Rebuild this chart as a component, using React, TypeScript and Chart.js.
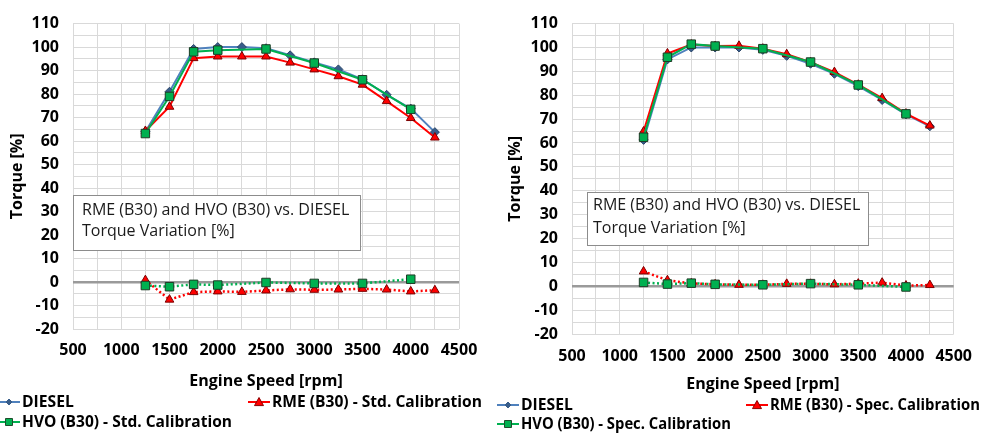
import React, { useEffect, useRef } from 'react';
import { Chart, registerables } from 'chart.js';
Chart.register(...registerables);

const rpmAll = [1250, 1500, 1750, 2000, 2250, 2500, 2750, 3000, 3250, 3500, 3750, 4000, 4250];
const rpmHvo = [1250, 1500, 1750, 2000, 2500, 3000, 3500, 4000];

const dieselStd = [64, 81, 99.2, 100, 100, 99.5, 96.5, 93.5, 90.5, 86.3, 79.7, 73.8, 63.8];
const rmeStd = [64.3, 74.6, 95.3, 96, 96, 96, 93.4, 90.5, 87.6, 84, 77, 69.8, 61.5];
const hvoStd = [63.2, 79, 98, 98.7, 99.2, 93.2, 86.1, 73.5];
const rmeStdVar = [0.8, -7.5, -4.3, -4, -4.2, -3.6, -3.1, -3.3, -3.2, -2.9, -3.2, -4, -3.5];
const hvoStdVar = [-1.5, -2, -1, -1.3, -0.2, -0.6, -0.6, 1.2];

const dieselSpec = [61.3, 95, 100, 100, 100, 99, 96.5, 93.2, 89, 83.8, 78, 72, 67];
const rmeSpec = [64.8, 97.5, 101.2, 100.6, 100.7, 99.5, 97.2, 93.8, 89.7, 84.4, 78.8, 72.3, 67.3];
const hvoSpec = [62.4, 95.9, 101.4, 100.6, 99.5, 93.9, 84.3, 72.2];
const rmeSpecVar = [6.2, 2.5, 1.2, 0.8, 0.6, 0.6, 1, 1, 0.8, 1.1, 1.5, 0.3, 0.5];
const hvoSpecVar = [1.6, 0.9, 1.3, 0.8, 0.6, 1.1, 0.6, -0.3];

const boxLines = ['RME (B30) and HVO (B30) vs. DIESEL', 'Torque Variation [%]'];

const FONT = '"Open Sans", sans-serif';
const BLUE = '#4F81BD';
const RED = '#FF0000';
const GREEN = '#00B050';

const pts = (xs: number[], ys: number[]) => xs.map((x, i) => ({ x, y: ys[i] }));

type PanelCfg = {
  width: number;
  left: number;
  right: number;
  top: number;
  bottom: number;
  yTitlePad: number;
  xTickPad: number;
  xTitlePad: number;
  diesel: number[];
  rme: number[];
  hvo: number[];
  rmeVar: number[];
  hvoVar: number[];
  rmeLabel: string;
  hvoLabel: string;
  box: { x0: number; x1: number; y0: number; y1: number; tx: number; ty: number[] };
  legend: { x0: number; x1: number; y0: number; y1: number };
};

function drawMarker(ctx: CanvasRenderingContext2D, kind: string, x: number, y: number, r: number, fill: string, stroke: string) {
  ctx.save();
  ctx.beginPath();
  if (kind === 'diamond') {
    ctx.moveTo(x, y - r); ctx.lineTo(x + r, y); ctx.lineTo(x, y + r); ctx.lineTo(x - r, y); ctx.closePath();
  } else if (kind === 'triangle') {
    ctx.moveTo(x, y - r); ctx.lineTo(x + r, y + r * 0.8); ctx.lineTo(x - r, y + r * 0.8); ctx.closePath();
  } else {
    ctx.rect(x - r, y - r, 2 * r, 2 * r);
  }
  ctx.fillStyle = fill; ctx.fill();
  ctx.lineWidth = 1; ctx.strokeStyle = stroke; ctx.stroke();
  ctx.restore();
}

function Panel({ cfg }: { cfg: PanelCfg }) {
  const ref = useRef<HTMLCanvasElement>(null);
  useEffect(() => {
    if (!ref.current) return;
    const overlay = {
      id: 'overlay',
      beforeDatasetsDraw(chart: any) {
        const ctx = chart.ctx as CanvasRenderingContext2D;
        const xs = chart.scales.x, ys = chart.scales.y;
        const b = cfg.box;
        const x0 = Math.round(xs.getPixelForValue(b.x0)) + 0.5;
        const x1 = Math.round(xs.getPixelForValue(b.x1)) + 0.5;
        const y0 = Math.round(ys.getPixelForValue(b.y0)) + 0.5;
        const y1 = Math.round(ys.getPixelForValue(b.y1)) + 0.5;
        ctx.save();
        ctx.fillStyle = '#FFFFFF';
        ctx.fillRect(x0, y0, x1 - x0, y1 - y0);
        ctx.strokeStyle = '#8C8C8C';
        ctx.lineWidth = 1;
        ctx.strokeRect(x0, y0, x1 - x0, y1 - y0);
        ctx.fillStyle = '#1A1A1A';
        ctx.font = `16px ${FONT}`;
        ctx.textBaseline = 'middle';
        ctx.textAlign = 'left';
        boxLines.forEach((t, i) => ctx.fillText(t, b.tx, b.ty[i]));
        ctx.restore();
      },
      afterDraw(chart: any) {
        const ctx = chart.ctx as CanvasRenderingContext2D;
        const L = cfg.legend;
        const items = [
          { x: L.x0, y: L.y0, label: 'DIESEL', color: BLUE, kind: 'diamond', r: 3, fill: '#385D8A', stroke: '#385D8A' },
          { x: L.x1, y: L.y0, label: cfg.rmeLabel, color: RED, kind: 'triangle', r: 4.5, fill: RED, stroke: '#8B0000' },
          { x: L.x0, y: L.y1, label: cfg.hvoLabel, color: GREEN, kind: 'square', r: 3.5, fill: GREEN, stroke: '#1E4D2B' },
        ];
        ctx.save();
        ctx.font = `bold 15.7px ${FONT}`;
        ctx.textBaseline = 'middle';
        ctx.textAlign = 'left';
        items.forEach((it) => {
          ctx.strokeStyle = it.color;
          ctx.lineWidth = 2;
          ctx.beginPath();
          ctx.moveTo(it.x, it.y);
          ctx.lineTo(it.x + 22, it.y);
          ctx.stroke();
          drawMarker(ctx, it.kind, it.x + 11, it.y, it.r, it.fill, it.stroke);
          ctx.fillStyle = '#000';
          ctx.fillText(it.label, it.x + 24, it.y + 1, 210);
        });
        ctx.restore();
      },
    };

    const tickFont = { family: FONT, size: 16, weight: 'bold' as const };
    const chart = new Chart(ref.current, {
      type: 'line',
      data: {
        datasets: [
          {
            label: 'DIESEL', data: pts(rpmAll, cfg.diesel), order: 5,
            borderColor: BLUE, borderWidth: 2, pointStyle: 'rectRot', pointRadius: 4.5,
            pointBackgroundColor: '#385D8A', pointBorderColor: '#2A4468', pointBorderWidth: 1,
          },
          {
            label: cfg.rmeLabel, data: pts(rpmAll, cfg.rme), order: 4,
            borderColor: RED, borderWidth: 2, pointStyle: 'triangle', pointRadius: 5,
            pointBackgroundColor: RED, pointBorderColor: '#7A0000', pointBorderWidth: 1,
          },
          {
            label: cfg.hvoLabel, data: pts(rpmHvo, cfg.hvo), order: 3,
            borderColor: GREEN, borderWidth: 2, pointStyle: 'rect', pointRadius: 6,
            pointBackgroundColor: GREEN, pointBorderColor: '#1E3B26', pointBorderWidth: 1,
          },
          {
            label: cfg.rmeLabel + ' var', data: pts(rpmAll, cfg.rmeVar), order: 2,
            borderColor: RED, borderWidth: 2.5, borderDash: [2, 2.5], pointStyle: 'triangle', pointRadius: 5,
            pointBackgroundColor: RED, pointBorderColor: '#7A0000', pointBorderWidth: 1,
          },
          {
            label: cfg.hvoLabel + ' var', data: pts(rpmHvo, cfg.hvoVar), order: 1,
            borderColor: GREEN, borderWidth: 2.5, borderDash: [2, 2.5], pointStyle: 'rect', pointRadius: 6,
            pointBackgroundColor: GREEN, pointBorderColor: '#1E3B26', pointBorderWidth: 1,
          },
        ],
      },
      options: {
        responsive: false,
        animation: false,
        devicePixelRatio: 1,
        layout: { padding: { left: 0, right: cfg.width - cfg.right, top: cfg.top, bottom: 0 } },
        plugins: { legend: { display: false }, tooltip: { enabled: false } },
        scales: {
          x: {
            type: 'linear', min: 500, max: 4500,
            ticks: {
              stepSize: 250, autoSkip: false, maxRotation: 0, padding: cfg.xTickPad,
              color: '#000', font: tickFont,
              callback: (v: any) => (Number(v) % 500 === 0 ? String(v) : ''),
            },
            grid: { color: '#D9D9D9', lineWidth: 1, drawTicks: false },
            border: { display: false },
            title: {
              display: true, text: 'Engine Speed [rpm]', color: '#000',
              font: { family: FONT, size: 16, weight: 'bold' }, padding: { top: 0, bottom: cfg.xTitlePad },
            },
            afterFit: (s: any) => { s.height = 435 - cfg.bottom; },
          },
          y: {
            type: 'linear', min: -20, max: 110,
            ticks: {
              stepSize: 5, autoSkip: false, padding: 14, color: '#000', font: tickFont,
              callback: (v: any) => (Number(v) % 10 === 0 ? String(v) : ''),
            },
            grid: {
              color: (c: any) => (c.tick && c.tick.value === 0 ? '#9A9A9A' : '#D9D9D9'),
              lineWidth: (c: any) => (c.tick && c.tick.value === 0 ? 2.5 : 1),
              drawTicks: false,
            },
            border: { display: false },
            title: {
              display: true, text: 'Torque [%]', color: '#000',
              font: { family: FONT, size: 16, weight: 'bold' }, padding: { top: cfg.yTitlePad, bottom: 0 },
            },
            afterFit: (s: any) => { s.width = cfg.left; },
          },
        },
      } as any,
      plugins: [overlay],
    });
    return () => chart.destroy();
  }, [cfg]);
  return <canvas ref={ref} width={cfg.width} height={435} style={{ display: 'block', width: cfg.width, height: 435 }} />;
}

const leftCfg: PanelCfg = {
  width: 490, left: 73, right: 459, top: 17, bottom: 329,
  yTitlePad: 8, xTickPad: 12, xTitlePad: 44,
  diesel: dieselStd, rme: rmeStd, hvo: hvoStd, rmeVar: rmeStdVar, hvoVar: hvoStdVar,
  rmeLabel: 'RME (B30) - Std. Calibration', hvoLabel: 'HVO (B30) - Std. Calibration',
  box: { x0: 500, x1: 3475, y0: 37.1, y1: 13.7, tx: 82, ty: [210, 231] },
  legend: { x0: -2, x1: 248, y0: 402, y1: 422 },
};

const rightCfg: PanelCfg = {
  width: 495, left: 82, right: 469, top: 17, bottom: 334,
  yTitlePad: 16, xTickPad: 13, xTitlePad: 41,
  diesel: dieselSpec, rme: rmeSpec, hvo: hvoSpec, rmeVar: rmeSpecVar, hvoVar: hvoSpecVar,
  rmeLabel: 'RME (B30) - Spec. Calibration', hvoLabel: 'HVO (B30) - Spec. Calibration',
  box: { x0: 655, x1: 3600, y0: 39.5, y1: 17.4, tx: 103, ty: [205, 228] },
  legend: { x0: 7, x1: 256, y0: 405, y1: 424 },
};

export default function App() {
  useEffect(() => {
    document.body.style.margin = '0';
  }, []);
  return (
    <div style={{ position: 'absolute', left: 0, top: 0, width: 985, height: 435, background: '#fff' }}>
      <div style={{ position: 'absolute', left: 0, top: 0 }}>
        <Panel cfg={leftCfg} />
      </div>
      <div style={{ position: 'absolute', left: 490, top: 0 }}>
        <Panel cfg={rightCfg} />
      </div>
    </div>
  );
}
